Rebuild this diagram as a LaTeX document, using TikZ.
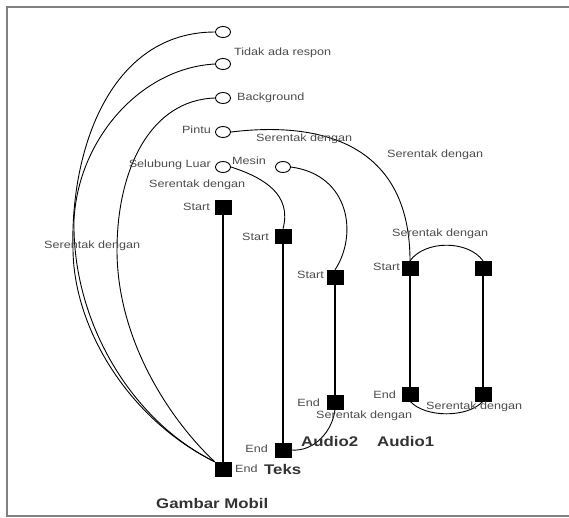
\documentclass[tikz,border=0pt]{standalone}
\usepackage{fontspec}
\setmainfont{Liberation Sans}[FakeStretch=1.2]
\usepackage{tikz}
\usetikzlibrary{positioning,shapes.geometric}

\begin{document}
\begin{tikzpicture}[x=1pt, y=-1pt,
  obj/.style={draw, ellipse, line width=0.9pt, fill=white,
              minimum width=15pt, minimum height=11pt, inner sep=0pt},
  sq/.style={draw, fill=black, rectangle, minimum width=16pt,
             minimum height=14pt, inner sep=0pt},
  bar/.style={line width=2.6pt},
  link/.style={line width=0.9pt},
  lbl/.style={font=\fontsize{10.5}{12}\selectfont, text=black!70, inner sep=0pt},
  ttl/.style={font=\fontsize{14}{16}\selectfont\bfseries, text=black!80, inner sep=0pt},
]
  \useasboundingbox (0,0) rectangle (569,517);
  \draw[gray, line width=1.5pt] (569,7) -- (7,7) -- (7,516) -- (569,516);

  % objects
  \node[obj] (tidak)    at (223,32)  {};
  \node[obj] (bg)       at (223,64)  {};
  \node[obj] (back)     at (223,98)  {};
  \node[obj] (pintu)    at (223,132) {};
  \node[obj] (selubung) at (223,167) {};
  \node[obj] (mesin)    at (283,167) {};

  % timelines
  \node[sq] (gmS)  at (223,207) {};
  \node[sq] (gmE)  at (223,469) {};
  \node[sq] (tkS)  at (283,236) {};
  \node[sq] (tkE)  at (283,450) {};
  \node[sq] (a2S)  at (335,277) {};
  \node[sq] (a2E)  at (335,402) {};
  \node[sq] (a1S)  at (410,268) {};
  \node[sq] (a1E)  at (410,394) {};
  \node[sq] (a1bS) at (483,268) {};
  \node[sq] (a1bE) at (483,394) {};

  \draw[bar] (gmS) -- (gmE);
  \draw[bar] (tkS) -- (tkE);
  \draw[bar] (a2S) -- (a2E);
  \draw[bar] (a1S) -- (a1E);
  \draw[bar] (a1bS) -- (a1bE);

  % links
  \draw[link] (tidak.west) .. controls (110,32) and (70,150) .. (73,250)
              .. controls (74,330) and (130,420) .. (gmE.north west);
  \draw[link] (bg.west) .. controls (140,68) and (78,140) .. (74,220)
              .. controls (72,320) and (130,420) .. (gmE.north west);
  \draw[link] (back.west) .. controls (150,100) and (117,170) .. (117,250)
              .. controls (117,340) and (170,420) .. (gmE.north west);
  \draw[link] (pintu.east) .. controls (330,120) and (410,150) .. (a1S.north);
  \draw[link] (selubung.east) .. controls (265,178) and (292,195) .. (tkS.north);
  \draw[link] (mesin.east) .. controls (350,175) and (358,235) .. (a2S.north);
  \draw[link] (a1S.north) .. controls (425,240) and (468,240) .. (a1bS.north);
  \draw[link] (a1E.south) .. controls (425,418) and (468,418) .. (a1bE.south);
  \draw[link] (tkE.east) .. controls (315,452) and (333,430) .. (a2E.south);

  % names
  \node[lbl, anchor=west] (lTidak) at (234,53)  {Tidak ada respon};
  \node[lbl, anchor=west] (lBack)  at (237,98)  {Background};
  \node[lbl, anchor=east] (lPintu) at (211,130) {Pintu};
  \node[lbl, anchor=east] (lSel)   at (211,165) {Selubung Luar};
  \node[lbl, anchor=west] (lMesin) at (232,161) {Mesin};

  \node[lbl, anchor=west] (s1) at (256,139) {Serentak dengan};
  \node[lbl, anchor=west] (s2) at (387,155) {Serentak dengan};
  \node[lbl, anchor=west] (s3) at (149,185) {Serentak dengan};
  \node[lbl, anchor=west] (s4) at (44,246)  {Serentak dengan};
  \node[lbl, anchor=west] (s5) at (392,234) {Serentak dengan};
  \node[lbl, anchor=west] (s6) at (316,416) {Serentak dengan};
  \node[lbl, anchor=west] (s7) at (426,407) {Serentak dengan};

  \node[lbl, anchor=east] at (210,207) {Start};
  \node[lbl, anchor=east] at (269,237) {Start};
  \node[lbl, anchor=east] at (324,275) {Start};
  \node[lbl, anchor=east] at (400,267) {Start};
  \node[lbl, anchor=east] at (320,403) {End};
  \node[lbl, anchor=east] at (396,395) {End};
  \node[lbl, anchor=east] at (268,449) {End};
  \node[lbl, anchor=west] at (235,469) {End};

  \node[ttl, anchor=west] (teks)   at (264,469) {Teks};
  \node[ttl, anchor=west] (audio2) at (301,441) {Audio2};
  \node[ttl, anchor=west] (audio1) at (377,441) {Audio1};
  \node[ttl, anchor=west] (gambar) at (156,503) {Gambar Mobil};
\end{tikzpicture}
\end{document}
